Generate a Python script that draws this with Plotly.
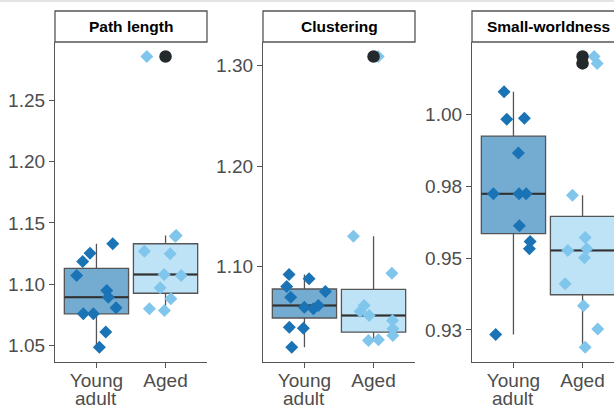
import numpy as np
import plotly.graph_objects as go

# ---- data -------------------------------------------------------------
metrics = ["Path length", "Clustering", "Small-worldness"]
groups = ["Young adult", "Aged"]

path_young = [1.1071, 1.1185, 1.1253, 1.1330, 1.0949, 1.0894, 1.0807, 1.0758, 1.0758, 1.0609, 1.0486]
path_aged = [1.2857, 1.1269, 1.1397, 1.1390, 1.1248, 1.1079, 1.1071, 1.0971, 1.0881, 1.0799, 1.0785]

clust_young = [1.0920, 1.0878, 1.0801, 1.0695, 1.0751, 1.0595, 1.0579, 1.0612, 1.0396, 1.0386, 1.0197]
clust_aged = [1.3090, 1.1302, 1.0933, 1.0612, 1.0552, 1.0512, 1.0463, 1.0380, 1.0313, 1.0264, 1.0271]

sw_young = [1.0079, 0.9984, 0.9987, 0.9866, 0.9724, 0.9724, 0.9724, 0.9613, 0.9558, 0.9533, 0.9234]
sw_aged = [0.9719, 0.9572, 0.9527, 0.9533, 0.9501, 0.9411, 0.9334, 0.9253, 0.9190, 1.0202, 1.0178]

# horizontal jitter of each point (category units)
path_young_jit = [-0.286, -0.199, -0.093, 0.236, 0.149, 0.172, 0.284, -0.190, -0.045, 0.135, 0.042]
path_aged_jit = [-0.271, -0.306, 0.154, 0.140, 0.067, -0.020, 0.226, -0.078, 0.077, -0.233, -0.016]
clust_young_jit = [-0.223, 0.067, -0.257, -0.199, 0.303, -0.001, 0.129, 0.201, -0.219, -0.016, -0.184]
clust_aged_jit = [0.067, -0.291, 0.265, -0.136, -0.194, -0.064, 0.274, 0.280, 0.280, -0.074, 0.071]
sw_young_jit = [-0.136, -0.097, 0.158, 0.071, -0.291, 0.081, 0.183, 0.086, 0.241, 0.230, -0.257]
sw_aged_jit = [-0.146, 0.038, -0.213, 0.062, 0.028, -0.252, 0.013, 0.220, 0.038, 0.168, 0.212]

panels = [
    (path_young, path_aged, path_young_jit, path_aged_jit),
    (clust_young, clust_aged, clust_young_jit, clust_aged_jit),
    (sw_young, sw_aged, sw_young_jit, sw_aged_jit),
]

# y-axis ticks for each facet
y_tickvals = [[1.05, 1.10, 1.15, 1.20, 1.25], [1.10, 1.20, 1.30], [0.925, 0.95, 0.975, 1.00]]
y_ticktext = [["1.05", "1.10", "1.15", "1.20", "1.25"], ["1.10", "1.20", "1.30"],
              ["0.93", "0.95", "0.98", "1.00"]]

# ---- styling ----------------------------------------------------------
W, H = 614, 408
FONT = "Liberation Sans, Arial, Helvetica, sans-serif"
point_col = ["#1a73b5", "#80c6ec"]
box_fill = ["rgba(31,120,180,0.62)", "rgba(130,200,238,0.52)"]
edge = "#555555"
box_w = 0.93
panel_px = [(55, 207), (263, 415), (472, 624)]
top_px, bot_px = 42, 361.7
strip_top = 11
unit_px = (panel_px[0][1] - panel_px[0][0]) / 2.2

fig = go.Figure()


def box_stats(vals):
    v = np.asarray(vals, dtype=float)
    q1, med, q3 = np.percentile(v, [25, 50, 75])
    iqr = q3 - q1
    lo, hi = q1 - 1.5 * iqr, q3 + 1.5 * iqr
    inside = v[(v >= lo) & (v <= hi)]
    out = v[(v < lo) | (v > hi)]
    return q1, med, q3, inside.min(), inside.max(), out


y_dom = [1 - bot_px / H, 1 - top_px / H]

for i, (young, aged, jy, ja) in enumerate(panels):
    ax = "" if i == 0 else str(i + 1)
    xref, yref = "x" + ax, "y" + ax
    allv = np.array(young + aged)
    pad = 0.05 * (allv.max() - allv.min())
    yr = [allv.min() - pad, allv.max() + pad]

    for g, (vals, jit) in enumerate([(young, jy), (aged, ja)]):
        pos = g + 1
        q1, med, q3, lf, uf, out = box_stats(vals)
        fig.add_trace(go.Box(
            x=[pos], q1=[q1], median=[med], q3=[q3], lowerfence=[lf], upperfence=[uf],
            width=box_w, fillcolor=box_fill[g], line=dict(color=edge, width=1.3),
            whiskerwidth=0, boxpoints=False, showlegend=False, hoverinfo="skip",
            xaxis=xref, yaxis=yref))
        fig.add_trace(go.Scatter(
            x=[pos - box_w / 2, pos + box_w / 2], y=[med, med], mode="lines",
            line=dict(color="#303030", width=2), showlegend=False, hoverinfo="skip",
            xaxis=xref, yaxis=yref))
        fig.add_trace(go.Scatter(
            x=[pos + j for j in jit], y=vals, mode="markers",
            marker=dict(symbol="diamond", size=10, color=point_col[g], line=dict(width=0)),
            showlegend=False, xaxis=xref, yaxis=yref))
        if len(out):
            fig.add_trace(go.Scatter(
                x=[pos] * len(out), y=out, mode="markers",
                marker=dict(symbol="circle", size=12.5, color="#24292c", line=dict(width=0)),
                showlegend=False, xaxis=xref, yaxis=yref))

    x0, x1 = panel_px[i]
    dom_right = min(x1, W)
    xrange = [0.4, 0.4 + (dom_right - x0) / unit_px]
    axis_common = dict(showline=True, linecolor=edge, linewidth=1.2, ticks="outside",
                       ticklen=5, tickwidth=1.2, tickcolor=edge, showgrid=False,
                       zeroline=False, tickfont=dict(family=FONT, size=19, color="#4d4d4d"))
    fig.update_layout({
        "xaxis" + ax: dict(domain=[x0 / W, dom_right / W], range=xrange, anchor=yref,
                           tickvals=[1, 2], ticktext=["Young", "Aged"],
                           ticklabelstandoff=-4, **axis_common),
        "yaxis" + ax: dict(domain=y_dom, range=yr, anchor=xref, tickvals=y_tickvals[i],
                           ticktext=y_ticktext[i], **axis_common),
    })

    # facet strip
    fig.add_shape(type="rect", xref="paper", yref="paper",
                  x0=x0 / W, x1=x1 / W, y0=1 - top_px / H, y1=1 - strip_top / H,
                  line=dict(color=edge, width=1.3), fillcolor="white", layer="above")
    fig.add_annotation(xref="paper", yref="paper", x=(x0 + x1) / 2 / W,
                       y=1 - (strip_top + top_px) / 2 / H, text="<b>%s</b>" % metrics[i],
                       showarrow=False, font=dict(family=FONT, size=15.5, color="black"),
                       xanchor="center", yanchor="middle")
    # second line of the first category label
    fig.add_annotation(xref=xref, yref="paper", x=1, y=1 - 398 / H, text="adult",
                       showarrow=False, font=dict(family=FONT, size=19, color="#4d4d4d"),
                       xanchor="center", yanchor="middle")

# thin band along the top edge
fig.add_shape(type="rect", xref="paper", yref="paper", x0=0, x1=1, y0=1 - 2 / H, y1=1,
              line=dict(width=0), fillcolor="#e4e4e4", layer="above")

fig.update_layout(width=W, height=H, margin=dict(l=0, r=0, t=0, b=0),
                  paper_bgcolor="white", plot_bgcolor="white", showlegend=False,
                  font=dict(family=FONT))

fig.write_html("out.html")
